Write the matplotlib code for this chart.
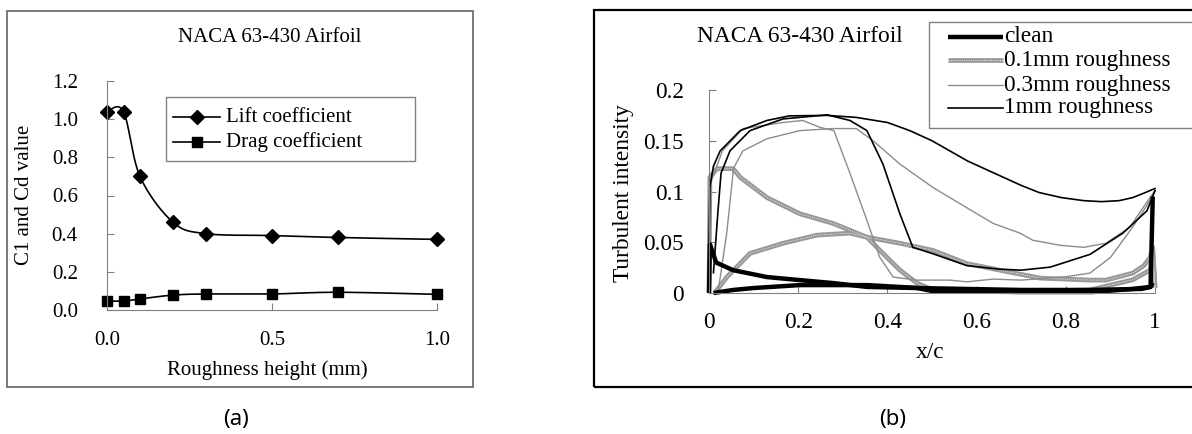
import numpy as np
import matplotlib
matplotlib.use('Agg')
import matplotlib.pyplot as plt
from matplotlib.patches import Rectangle
from matplotlib.lines import Line2D

plt.rcParams['font.family'] = ['Liberation Serif', 'DejaVu Serif']

# ---- panel (a): lift / drag vs roughness height ----
rough_h = [0.0, 0.05, 0.1, 0.2, 0.3, 0.5, 0.7, 1.0]
lift = [1.04, 1.04, 0.70, 0.46, 0.40, 0.39, 0.38, 0.37]
drag = [0.047, 0.047, 0.058, 0.078, 0.084, 0.084, 0.093, 0.082]

# ---- panel (b): turbulent intensity along chord (upper / lower traces) ----
clean_up_x = [0.0, 0.002, 0.01, 0.016, 0.054, 0.13, 0.204, 0.278, 0.354, 0.466, 0.70, 0.85, 0.97, 0.99, 0.995]
clean_up_y = [0.0, 0.048, 0.038, 0.030, 0.0225, 0.0157, 0.0127, 0.0098, 0.006, 0.0049, 0.003, 0.003, 0.004, 0.006, 0.095]
clean_lo_x = [0.01, 0.054, 0.1, 0.204, 0.354, 0.466, 0.5, 0.7, 0.86, 0.95, 0.99, 0.995]
clean_lo_y = [0.0, 0.003, 0.0049, 0.0078, 0.0078, 0.005, 0.002, 0.001, 0.001, 0.004, 0.006, 0.01]

r01_up_x = [0.0, 0.002, 0.018, 0.054, 0.07, 0.13, 0.204, 0.278, 0.354, 0.428, 0.502, 0.578, 0.652, 0.742, 0.854, 0.89, 0.95, 0.975, 0.989, 0.995, 1.0]
r01_up_y = [0.0, 0.114, 0.1225, 0.1225, 0.114, 0.094, 0.078, 0.0686, 0.055, 0.049, 0.042, 0.029, 0.0225, 0.0147, 0.0127, 0.0127, 0.0196, 0.027, 0.035, 0.045, 0.005]
r01_lo_x = [0.013, 0.04, 0.092, 0.166, 0.242, 0.316, 0.354, 0.39, 0.428, 0.466, 0.502, 0.6, 0.75, 0.854, 0.95, 0.989, 0.995, 1.0]
r01_lo_y = [0.0, 0.0157, 0.039, 0.049, 0.057, 0.059, 0.055, 0.039, 0.0225, 0.0098, 0.003, 0.002, 0.002, 0.003, 0.013, 0.0225, 0.039, 0.005]

r03_up_x = [0.02, 0.04, 0.055, 0.076, 0.13, 0.204, 0.278, 0.33, 0.368, 0.428, 0.502, 0.578, 0.637, 0.697, 0.726, 0.787, 0.84, 0.89, 0.944, 0.973, 1.0]
r03_up_y = [0.0, 0.06, 0.123, 0.14, 0.152, 0.16, 0.162, 0.162, 0.15, 0.127, 0.104, 0.084, 0.0686, 0.059, 0.052, 0.047, 0.045, 0.049, 0.065, 0.084, 0.101]
r03_lo_x = [0.0, 0.005, 0.03, 0.076, 0.166, 0.21, 0.25, 0.28, 0.316, 0.354, 0.383, 0.413, 0.466, 0.54, 0.578, 0.637, 0.70, 0.80, 0.854, 0.9, 0.95, 0.98, 1.0]
r03_lo_y = [0.0, 0.11, 0.14, 0.162, 0.168, 0.17, 0.163, 0.16, 0.118, 0.0716, 0.035, 0.0157, 0.0127, 0.0127, 0.011, 0.0137, 0.0127, 0.016, 0.0196, 0.035, 0.065, 0.085, 0.1]

r1_up_x = [0.0, 0.002, 0.01, 0.025, 0.07, 0.13, 0.18, 0.265, 0.33, 0.40, 0.45, 0.50, 0.58, 0.64, 0.70, 0.74, 0.79, 0.84, 0.88, 0.92, 0.95, 0.973, 1.0]
r1_up_y = [0.05, 0.105, 0.125, 0.14, 0.16, 0.17, 0.1745, 0.175, 0.173, 0.168, 0.16, 0.15, 0.13, 0.118, 0.106, 0.099, 0.094, 0.091, 0.09, 0.091, 0.094, 0.098, 0.103]
r1_lo_x = [0.01, 0.02, 0.027, 0.047, 0.092, 0.166, 0.265, 0.316, 0.354, 0.39, 0.428, 0.457, 0.50, 0.578, 0.65, 0.70, 0.765, 0.854, 0.928, 0.982, 1.0]
r1_lo_y = [0.02, 0.08, 0.118, 0.14, 0.16, 0.1715, 0.1755, 0.17, 0.16, 0.127, 0.078, 0.045, 0.039, 0.027, 0.0235, 0.0225, 0.0255, 0.038, 0.059, 0.081, 0.101]

legend_b = ['clean', '0.1mm roughness', '0.3mm roughness', '1mm roughness']

W, H = 1192, 434
FS_A = 15.0
FS_B = 16.8


def fx(px):
    return px / W


def fy(py):
    return 1 - py / H


def excel_smooth(x, y, n=40):
    # bezier smoothing like the excel "smoothed line" option
    x = np.asarray(x, float)
    y = np.asarray(y, float)
    xp = np.concatenate([[x[0]], x, [x[-1]]])
    yp = np.concatenate([[y[0]], y, [y[-1]]])
    t = np.linspace(0, 1, n)
    xs, ys = [], []
    for i in range(1, len(x)):
        for p, out in ((xp, xs), (yp, ys)):
            p0, p3 = p[i], p[i + 1]
            c1 = p[i] + (p[i + 1] - p[i - 1]) / 6
            c2 = p[i + 1] - (p[i + 2] - p[i]) / 6
            out.extend((1 - t) ** 3 * p0 + 3 * (1 - t) ** 2 * t * c1 + 3 * (1 - t) * t ** 2 * c2 + t ** 3 * p3)
    return np.array(xs), np.array(ys)


fig = plt.figure(figsize=(W / 100, H / 100), dpi=100)

# outer frames
fig.add_artist(Rectangle((fx(7), fy(387)), (473 - 7) / W, (387 - 11) / H, transform=fig.transFigure,
                         fill=False, ec='#707070', lw=1.3))
fig.add_artist(Rectangle((fx(594), fy(387)), (1210 - 594) / W, (387 - 10) / H, transform=fig.transFigure,
                         fill=False, ec='black', lw=1.6))

grey = '#808080'

# ---------------- panel (a) ----------------
ax1 = fig.add_axes([fx(107), fy(310), 330 / W, 229 / H])
sx, sy = excel_smooth(rough_h, lift)
ax1.plot(sx, sy, color='black', lw=1.2, clip_on=False)
ax1.plot(rough_h, lift, ls='none', marker='D', ms=7, color='black', clip_on=False)
sx, sy = excel_smooth(rough_h, drag)
ax1.plot(sx, sy, color='black', lw=1.2, clip_on=False)
ax1.plot(rough_h, drag, ls='none', marker='s', ms=7, color='black', clip_on=False)
ax1.set_xlim(0, 1.0)
ax1.set_ylim(0, 1.2)
ax1.set_xticks([0, 0.5, 1.0])
ax1.set_yticks(np.arange(0, 1.21, 0.2))
ax1.xaxis.set_major_formatter(plt.FormatStrFormatter('%.1f'))
ax1.yaxis.set_major_formatter(plt.FormatStrFormatter('%.1f'))
for s in ['top', 'right']:
    ax1.spines[s].set_visible(False)
for s in ['left', 'bottom']:
    ax1.spines[s].set_color(grey)
ax1.tick_params(direction='in', length=5, color=grey, labelsize=FS_A)
ax1.tick_params(axis='y', pad=21)
ax1.tick_params(axis='x', pad=15)
ax1.patch.set_visible(False)

fig.text(fx(270), fy(37), 'NACA 63-430 Airfoil', ha='center', va='center', fontsize=FS_A)
fig.text(fx(25), fy(195), 'C1 and Cd value', ha='center', va='center', rotation=90, fontsize=FS_A)
fig.text(fx(267), fy(370), 'Roughness height (mm)', ha='center', va='center', fontsize=FS_A)

# legend (a)
fig.add_artist(Rectangle((fx(166), fy(161)), (415 - 166) / W, (161 - 97) / H, transform=fig.transFigure,
                         fill=False, ec=grey, lw=1.0))
for yy, mk, lab in [(117, 'D', 'Lift coefficient'), (142, 's', 'Drag coefficient')]:
    fig.add_artist(Line2D([fx(173), fx(220)], [fy(yy), fy(yy)], transform=fig.transFigure,
                          color='black', lw=1.2))
    fig.add_artist(Line2D([fx(197)], [fy(yy)], transform=fig.transFigure, marker=mk, ms=7,
                          color='black', ls='none'))
    fig.text(fx(226), fy(yy), lab, ha='left', va='center', fontsize=FS_A)

# ---------------- panel (b) ----------------
ax2 = fig.add_axes([fx(709), fy(293), 446 / W, 203 / H])

thick_grey = dict(color='#989898', lw=3.4, solid_capstyle='butt', clip_on=False)
thin_grey = dict(color='#8c8c8c', lw=1.0, clip_on=False)
thick_black = dict(color='black', lw=3.2, solid_capstyle='butt', clip_on=False)
thin_black = dict(color='black', lw=1.2, clip_on=False)
texture = dict(color='#e8e8e8', lw=0.7, ls=(0, (1, 1.3)), clip_on=False)

ax2.plot(r01_up_x, r01_up_y, **thick_grey)
ax2.plot(r01_lo_x, r01_lo_y, **thick_grey)
ax2.plot(r01_up_x, r01_up_y, **texture)
ax2.plot(r01_lo_x, r01_lo_y, **texture)
ax2.plot(r03_up_x, r03_up_y, **thin_grey)
ax2.plot(r03_lo_x, r03_lo_y, **thin_grey)
ax2.plot(r1_up_x, r1_up_y, **thin_black)
ax2.plot(r1_lo_x, r1_lo_y, **thin_black)
ax2.plot(clean_up_x, clean_up_y, **thick_black)
ax2.plot(clean_lo_x, clean_lo_y, **thick_black)

ax2.set_xlim(0, 1.0)
ax2.set_ylim(0, 0.2)
ax2.set_xticks(np.arange(0, 1.01, 0.2))
ax2.set_yticks(np.arange(0, 0.201, 0.05))
ax2.xaxis.set_major_formatter(plt.FuncFormatter(lambda v, p: '%g' % round(v, 2)))
ax2.yaxis.set_major_formatter(plt.FuncFormatter(lambda v, p: '%g' % round(v, 3)))
for s in ['top', 'right']:
    ax2.spines[s].set_visible(False)
for s in ['left', 'bottom']:
    ax2.spines[s].set_color(grey)
ax2.tick_params(direction='in', length=5, color=grey, labelsize=FS_B)
ax2.tick_params(axis='y', pad=18)
ax2.tick_params(axis='x', pad=14)
ax2.patch.set_visible(False)

fig.text(fx(800), fy(37), 'NACA 63-430 Airfoil', ha='center', va='center', fontsize=FS_B)
fig.text(fx(623), fy(193), 'Turbulent intensity', ha='center', va='center', rotation=90, fontsize=FS_B)
fig.text(fx(930), fy(352), 'x/c', ha='center', va='center', fontsize=FS_B)

# legend (b), runs off the right edge like the source
fig.add_artist(Rectangle((fx(929), fy(128)), (1250 - 929) / W, (128 - 22) / H, transform=fig.transFigure,
                         fill=False, ec=grey, lw=1.0))
leg_styles = [thick_black, thick_grey, thin_grey, thin_black]
for k, (lab, st) in enumerate(zip(legend_b, leg_styles)):
    yy = [37, 60, 85, 108][k]
    st = {kk: v for kk, v in st.items() if kk != 'clip_on'}
    fig.add_artist(Line2D([fx(948), fx(1003)], [fy(yy), fy(yy)], transform=fig.transFigure, **st))
    if k == 1:
        tx = {kk: v for kk, v in texture.items() if kk != 'clip_on'}
        fig.add_artist(Line2D([fx(948), fx(1003)], [fy(yy), fy(yy)], transform=fig.transFigure, **tx))
    fig.text(fx(1004), fy(yy), lab, ha='left', va='center', fontsize=FS_B)

# captions
fig.text(fx(236), fy(420), '(a)', ha='center', va='center', fontsize=16, family=['Noto Sans', 'DejaVu Sans'])
fig.text(fx(893), fy(420), '(b)', ha='center', va='center', fontsize=16, family=['Noto Sans', 'DejaVu Sans'])

fig.savefig('out.png', dpi=100)
